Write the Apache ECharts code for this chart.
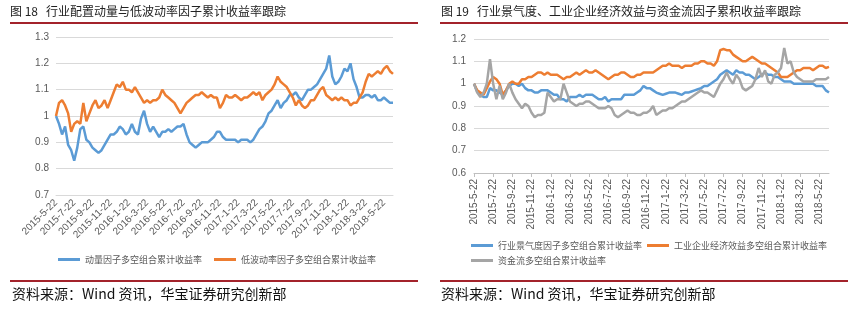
<!DOCTYPE html>
<html><head><meta charset="utf-8">
<script src="https://cdn.jsdelivr.net/npm/echarts@6/dist/echarts.min.js"></script>
<style>html,body{margin:0;padding:0;background:#fff}#c{width:852px;height:312px}</style>
</head><body><div id="c"></div>
<script>
// Tick labels shown on both x axes (every two months)
const tickLabels = ["2015-5-22","2015-7-22","2015-9-22","2015-11-22","2016-1-22","2016-3-22","2016-5-22","2016-7-22","2016-9-22","2016-11-22","2017-1-22","2017-3-22","2017-5-22","2017-7-22","2017-9-22","2017-11-22","2018-1-22","2018-3-22","2018-5-22"];

// Left chart (图18)
const leftSeriesNames = ["动量因子多空组合累计收益率","低波动率因子多空组合累计收益率"];
const momentum = [1.00,0.97,0.93,0.96,0.89,0.87,0.83,0.88,0.95,0.96,0.91,0.90,0.88,0.87,0.86,0.87,0.89,0.91,0.93,0.93,0.94,0.96,0.95,0.93,0.94,0.97,0.94,0.93,0.99,1.02,0.97,0.94,0.96,0.94,0.92,0.94,0.94,0.95,0.94,0.95,0.96,0.96,0.97,0.93,0.90,0.89,0.88,0.89,0.90,0.90,0.90,0.91,0.92,0.94,0.94,0.92,0.91,0.91,0.91,0.91,0.90,0.91,0.91,0.91,0.90,0.91,0.93,0.95,0.96,0.98,1.01,1.02,1.04,1.06,1.03,1.05,1.06,1.08,1.08,1.09,1.07,1.06,1.08,1.10,1.10,1.11,1.12,1.14,1.16,1.18,1.23,1.15,1.12,1.13,1.15,1.18,1.17,1.20,1.14,1.11,1.07,1.07,1.08,1.08,1.07,1.08,1.06,1.06,1.07,1.06,1.05,1.05];
const lowVol = [1.00,1.05,1.06,1.04,1.01,0.94,0.97,0.98,0.97,1.05,0.98,1.01,1.04,1.06,1.03,1.04,1.06,1.03,1.06,1.09,1.12,1.11,1.13,1.10,1.10,1.09,1.11,1.09,1.07,1.05,1.06,1.05,1.06,1.06,1.07,1.10,1.08,1.07,1.06,1.05,1.03,1.01,1.03,1.05,1.06,1.07,1.08,1.08,1.09,1.08,1.07,1.08,1.07,1.07,1.03,1.05,1.08,1.07,1.07,1.08,1.07,1.06,1.07,1.07,1.08,1.09,1.08,1.09,1.06,1.08,1.09,1.10,1.12,1.15,1.13,1.12,1.11,1.09,1.07,1.04,1.06,1.04,1.03,1.04,1.06,1.06,1.08,1.10,1.11,1.08,1.07,1.06,1.07,1.06,1.07,1.06,1.06,1.04,1.05,1.05,1.07,1.09,1.13,1.16,1.15,1.16,1.17,1.16,1.18,1.19,1.17,1.16];

// Right chart (图19)
const rightSeriesNames = ["行业景气度因子多空组合累计收益率","工业企业经济效益多空组合累计收益率","资金流多空组合累计收益率"];
const prosperity = [1.00,0.965,0.95,0.94,0.94,0.98,0.97,0.97,0.96,0.95,0.97,0.99,1.00,1.00,0.99,1.00,0.98,0.97,0.97,0.96,0.96,0.97,0.97,0.97,0.96,0.95,0.95,0.93,0.93,0.92,0.94,0.94,0.94,0.95,0.94,0.95,0.95,0.95,0.94,0.93,0.93,0.94,0.92,0.93,0.93,0.93,0.93,0.95,0.95,0.95,0.95,0.96,0.97,0.99,0.98,0.98,0.97,0.96,0.955,0.95,0.955,0.96,0.96,0.96,0.955,0.95,0.96,0.96,0.965,0.97,0.975,0.98,0.99,0.99,1.00,1.01,1.02,1.04,1.05,1.06,1.05,1.04,1.06,1.05,1.05,1.04,1.04,1.03,1.02,1.03,1.04,1.05,1.04,1.04,1.03,1.03,1.02,1.01,1.01,1.01,1.00,1.00,1.00,1.00,1.00,1.00,1.00,0.99,0.99,0.99,0.97,0.96];
const industrial = [1.00,0.97,0.96,0.95,0.98,1.01,1.03,1.02,1.00,0.95,0.97,1.00,1.01,1.00,1.00,1.02,1.02,1.03,1.03,1.04,1.05,1.05,1.04,1.05,1.04,1.04,1.04,1.03,1.02,1.03,1.03,1.04,1.05,1.04,1.05,1.06,1.05,1.05,1.06,1.05,1.04,1.03,1.02,1.03,1.04,1.04,1.05,1.05,1.04,1.03,1.03,1.04,1.04,1.05,1.05,1.05,1.05,1.06,1.07,1.08,1.08,1.09,1.08,1.08,1.08,1.07,1.08,1.08,1.08,1.09,1.09,1.10,1.10,1.09,1.09,1.08,1.10,1.15,1.155,1.15,1.15,1.13,1.12,1.11,1.10,1.10,1.11,1.12,1.11,1.10,1.09,1.09,1.08,1.07,1.06,1.05,1.03,1.03,1.03,1.04,1.05,1.06,1.06,1.07,1.07,1.07,1.06,1.07,1.08,1.08,1.07,1.075];
const capitalFlow = [1.00,0.96,0.94,0.96,1.00,1.11,1.00,0.93,0.99,0.93,0.96,1.00,0.96,0.93,0.91,0.89,0.91,0.90,0.87,0.85,0.86,0.86,0.87,0.96,0.94,0.92,0.93,0.93,1.00,0.96,0.92,0.91,0.90,0.91,0.91,0.92,0.92,0.91,0.90,0.89,0.89,0.89,0.90,0.89,0.86,0.85,0.86,0.87,0.88,0.87,0.87,0.86,0.86,0.87,0.87,0.88,0.90,0.86,0.87,0.88,0.88,0.89,0.89,0.90,0.91,0.92,0.92,0.93,0.94,0.95,0.96,0.97,0.96,0.96,0.95,0.94,0.97,1.00,1.02,1.05,1.02,1.00,1.04,1.02,0.98,0.97,0.98,0.99,1.02,1.07,1.03,1.06,1.01,1.00,1.04,1.05,1.07,1.16,1.09,1.10,1.05,1.03,1.02,1.01,1.01,1.01,1.01,1.02,1.02,1.02,1.02,1.03];

// Categories: three observation dates per month (22nd, 2nd, 12th), starting 2015-5-22
const categories = [];
for (let k = 0; k < momentum.length; k++) {
  const m = Math.floor(k / 3);
  const r = k % 3;
  let mon = 5 + m + (r === 0 ? 0 : 1);
  const day = [22, 2, 12][r];
  const year = 2015 + Math.floor((mon - 1) / 12);
  mon = ((mon - 1) % 12) + 1;
  categories.push(year + "-" + mon + "-" + day);
}
const showTick = (idx) => idx % 6 === 0;

const BLUE = "#5B9BD5", ORANGE = "#ED7D31", GRAY = "#A5A5A5";
const RED = "#A3232B";
const CJK = "'Noto Sans CJK SC', sans-serif";
const NUM = "'Liberation Sans', Arial, sans-serif";

const chart = echarts.init(document.getElementById('c'), null, {renderer: 'canvas'});

function line(name, data, color, xi, yi) {
  return {name, type: 'line', data, xAxisIndex: xi, yAxisIndex: yi, symbol: 'none',
    lineStyle: {color, width: 2.5}, itemStyle: {color}, animation: false};
}

const legendText = {color: '#595959', fontSize: 9, fontFamily: CJK};

chart.setOption({
  animation: false,
  backgroundColor: '#fff',
  grid: [
    {left: 56, top: 37, width: 337, height: 158},
    {left: 474, top: 39, width: 355, height: 134}
  ],
  xAxis: [
    {type: 'category', gridIndex: 0, data: categories, boundaryGap: false,
      axisLine: {show: true, lineStyle: {color: '#D9D9D9'}}, axisTick: {show: false},
      axisLabel: {interval: showTick, rotate: 45, color: '#595959', fontSize: 10, fontFamily: NUM, margin: 6}},
    {type: 'category', gridIndex: 1, data: categories, boundaryGap: false,
      axisLine: {show: true, lineStyle: {color: '#BFBFBF'}},
      axisTick: {show: true, interval: showTick, length: 4, lineStyle: {color: '#BFBFBF'}},
      axisLabel: {interval: showTick, rotate: 90, color: '#595959', fontSize: 10, fontFamily: NUM, margin: 6}}
  ],
  yAxis: [
    {type: 'value', gridIndex: 0, min: 0.7, max: 1.3, interval: 0.1,
      axisLine: {show: false}, axisTick: {show: false},
      splitLine: {lineStyle: {color: '#D9D9D9'}},
      axisLabel: {color: '#595959', fontSize: 10, fontFamily: NUM, margin: 7,
        formatter: v => String(Math.round(v * 10) / 10)}},
    {type: 'value', gridIndex: 1, min: 0.6, max: 1.2, interval: 0.1,
      axisLine: {show: false}, axisTick: {show: false},
      splitLine: {lineStyle: {color: '#D9D9D9'}},
      axisLabel: {color: '#595959', fontSize: 10, fontFamily: NUM, margin: 8,
        formatter: v => String(Math.round(v * 10) / 10)}}
  ],
  legend: [
    {data: leftSeriesNames, left: 53, top: 250, itemWidth: 22, itemHeight: 3, itemGap: 12,
      icon: 'rect', textStyle: legendText, selectedMode: false},
    {data: rightSeriesNames.slice(0, 2), left: 466, top: 236, itemWidth: 22, itemHeight: 3, itemGap: 5,
      icon: 'rect', textStyle: legendText, selectedMode: false},
    {data: rightSeriesNames.slice(2), left: 466, top: 251, itemWidth: 22, itemHeight: 3,
      icon: 'rect', textStyle: legendText, selectedMode: false}
  ],
  series: [
    line(leftSeriesNames[0], momentum, BLUE, 0, 0),
    line(leftSeriesNames[1], lowVol, ORANGE, 0, 0),
    line(rightSeriesNames[0], prosperity, BLUE, 1, 1),
    line(rightSeriesNames[1], industrial, ORANGE, 1, 1),
    line(rightSeriesNames[2], capitalFlow, GRAY, 1, 1)
  ],
  graphic: [
    {type: 'text', left: 10, top: 5, style: {text: '图 18   行业配置动量与低波动率因子累计收益率跟踪', fill: '#222', font: "12px " + CJK}},
    {type: 'text', left: 441, top: 5, style: {text: '图 19   行业景气度、工业企业经济效益与资金流因子累积收益率跟踪', fill: '#222', font: "12px " + CJK}},
    {type: 'rect', shape: {x: 10, y: 22, width: 408, height: 2}, style: {fill: RED}},
    {type: 'rect', shape: {x: 440, y: 22, width: 408, height: 2}, style: {fill: RED}},
    {type: 'rect', shape: {x: 10, y: 280, width: 408, height: 2}, style: {fill: RED}},
    {type: 'rect', shape: {x: 440, y: 280, width: 408, height: 2}, style: {fill: RED}},
    {type: 'text', left: 12, top: 287, style: {text: '资料来源：Wind 资讯，华宝证券研究创新部', fill: '#111', font: "14px " + CJK}},
    {type: 'text', left: 441, top: 287, style: {text: '资料来源：Wind 资讯，华宝证券研究创新部', fill: '#111', font: "14px " + CJK}}
  ]
});
</script>
</body></html>
